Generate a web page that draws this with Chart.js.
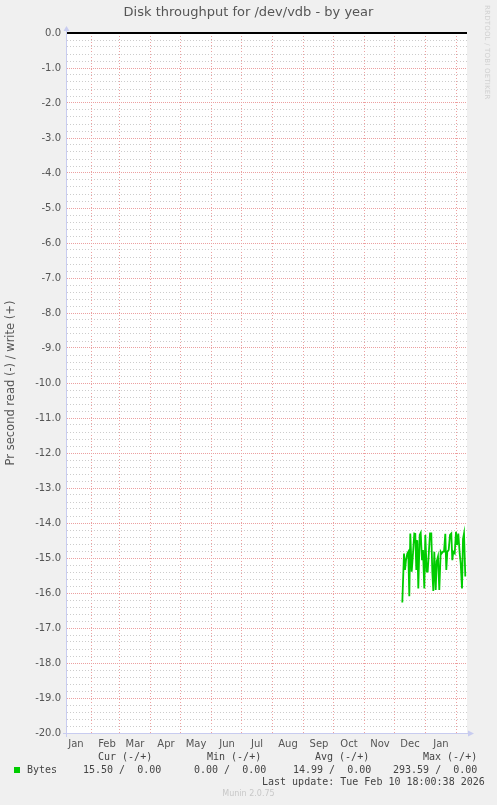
<!DOCTYPE html>
<html>
<head>
<meta charset="utf-8">
<script src="https://cdn.jsdelivr.net/npm/chart.js@4/dist/chart.umd.min.js"></script>
<style>
  html, body { margin:0; padding:0; background:#f0f0f0; width:497px; height:805px; overflow:hidden; }
  #wrap { position:relative; width:497px; height:805px; }
  canvas { position:absolute; left:0; top:0; }
  .t { position:absolute; white-space:pre; font-family:"DejaVu Sans Mono", monospace; font-size:10px; line-height:12px; color:#444; }
  #title { position:absolute; left:0; width:497px; top:4px; text-align:center; font-family:"DejaVu Sans", sans-serif; font-size:13px; color:#555; }
  #rrd { position:absolute; left:483px; top:5px; writing-mode:vertical-rl; font-family:"DejaVu Sans", sans-serif; font-size:7px; color:#d0d0d0; letter-spacing:0.2px; }
  #munin { position:absolute; left:0; width:497px; top:789px; text-align:center; font-family:"DejaVu Sans", sans-serif; font-size:8px; color:#c8c8c8; }
  #sq { position:absolute; left:14px; top:767px; width:6px; height:6px; background:#00cc00; }
</style>
</head>
<body>
<div id="wrap">
<canvas id="c" width="497" height="805"></canvas>
<div id="title">Disk throughput for /dev/vdb - by year</div>
<div id="rrd">RRDTOOL / TOBI OETIKER</div>
<div class="t" style="left:98px;top:751px">Cur (-/+)</div>
<div class="t" style="left:207px;top:751px">Min (-/+)</div>
<div class="t" style="left:315px;top:751px">Avg (-/+)</div>
<div class="t" style="left:423px;top:751px">Max (-/+)</div>
<div id="sq"></div>
<div class="t" style="left:27px;top:764px">Bytes</div>
<div class="t" style="left:83px;top:764px">15.50 /  0.00</div>
<div class="t" style="left:194px;top:764px">0.00 /  0.00</div>
<div class="t" style="left:293px;top:764px">14.99 /  0.00</div>
<div class="t" style="left:393px;top:764px">293.59 /  0.00</div>
<div class="t" style="left:262px;top:776px">Last update: Tue Feb 10 18:00:38 2026</div>
<div id="munin">Munin 2.0.75</div>
</div>
<script>
// ---- data (x in days since 1 Jan 2025) ----
const xMin = 6.7;
const xMax = 406.7;
const monthNames = ['Jan','Feb','Mar','Apr','May','Jun','Jul','Aug','Sep','Oct','Nov','Dec','Jan'];
const monthStartDays = [0,31,59,90,120,151,181,212,243,273,304,334,365,396];
const readDays = [342.0,343.7,344.7,345.7,347.0,348.0,349.0,350.0,351.4,352.7,354.0,355.0,356.0,357.0,358.0,359.4,360.4,361.7,362.7,364.0,365.0,366.4,367.4,368.7,369.7,371.0,372.0,373.0,374.0,375.4,376.4,377.7,379.0,380.4,381.4,382.7,383.7,385.0,386.0,387.0,388.4,389.7,391.0,392.0,393.0,394.4,395.7,396.7,398.0,399.4,400.4,401.7,402.7,403.7,405.0];
const readValues = [-16.27,-14.87,-15.34,-15.06,-14.87,-14.82,-16.09,-14.30,-15.39,-14.87,-14.30,-14.31,-15.34,-14.49,-15.87,-14.34,-14.28,-15.06,-14.77,-15.87,-14.34,-15.39,-15.39,-14.77,-14.30,-14.30,-15.39,-15.94,-14.82,-15.91,-15.10,-14.96,-15.91,-14.82,-14.87,-14.82,-14.82,-14.31,-15.34,-14.82,-14.77,-14.34,-14.30,-15.06,-14.82,-14.87,-14.25,-14.63,-14.30,-14.87,-15.15,-15.87,-14.45,-14.30,-15.53];
const zeroDays = [xMin, xMax];
const zeroValues = [0, 0];
const yMin = -20, yMax = 0, yMinorStep = 0.2, yMajorEvery = 5;

// ---- derived ----
const gridDays = monthStartDays.filter(d => d > xMin && d < xMax);
const labelMap = new Map();
monthNames.forEach((n, i) => labelMap.set(monthStartDays[i] + 15.7, n));
const gridSet = new Set(gridDays);

const MAJOR = '#eca0a0', MINOR = '#cccccc', AXIS = '#c8ccf0';
const isMajorY = (c) => {
  if (!c.tick) return false;
  const k = Math.round(-c.tick.value / yMinorStep);
  return k % yMajorEvery === 0;
};

const bgPlugin = {
  id: 'bg',
  beforeDraw(chart) {
    const {ctx, chartArea: a} = chart;
    ctx.save();
    ctx.fillStyle = '#f0f0f0';
    ctx.fillRect(0, 0, chart.width, chart.height);
    ctx.fillStyle = '#ffffff';
    ctx.fillRect(a.left, a.top, a.right - a.left, a.bottom - a.top);
    ctx.restore();
  },
  afterDraw(chart) {
    const {ctx, chartArea: a} = chart;
    ctx.save();
    ctx.strokeStyle = AXIS; ctx.fillStyle = AXIS; ctx.lineWidth = 1;
    ctx.beginPath();
    ctx.moveTo(a.left - 4, a.bottom + 0.5); ctx.lineTo(a.right + 2, a.bottom + 0.5);
    ctx.moveTo(a.left - 0.5, a.bottom + 4); ctx.lineTo(a.left - 0.5, a.top - 3);
    ctx.stroke();
    ctx.beginPath();
    ctx.moveTo(a.right + 7, a.bottom + 0.5); ctx.lineTo(a.right + 1, a.bottom - 2.5); ctx.lineTo(a.right + 1, a.bottom + 3.5); ctx.closePath();
    ctx.fill();
    ctx.beginPath();
    ctx.moveTo(a.left - 0.5, a.top - 7); ctx.lineTo(a.left - 3.5, a.top - 2); ctx.lineTo(a.left + 2.5, a.top - 2); ctx.closePath();
    ctx.fill();
    ctx.restore();
  }
};

new Chart(document.getElementById('c'), {
  type: 'line',
  data: {
    datasets: [
      {
        label: 'zero',
        data: zeroDays.map((d, i) => ({x: d, y: zeroValues[i]})),
        borderColor: '#000000', borderWidth: 2, pointRadius: 0, clip: false, order: 0
      },
      {
        label: 'Bytes',
        data: readDays.map((d, i) => ({x: d, y: readValues[i]})),
        borderColor: '#00cc00', borderWidth: 1.8, pointRadius: 0, tension: 0, order: 1
      }
    ]
  },
  options: {
    responsive: false,
    devicePixelRatio: 1,
    animation: false,
    layout: { padding: { top: 33, right: 30, left: 0, bottom: 0 } },
    plugins: { legend: { display: false }, tooltip: { enabled: false }, title: { display: false } },
    scales: {
      x: {
        type: 'linear', min: xMin, max: xMax,
        afterBuildTicks(scale) {
          const vals = [...gridDays, ...labelMap.keys()].filter(v => v >= xMin && v <= xMax).sort((a, b) => a - b);
          scale.ticks = vals.map(v => ({value: v}));
        },
        afterFit(scale) { scale.height = 72; },
        grid: {
          drawTicks: false,
          color: (c) => (c.tick && gridSet.has(c.tick.value)) ? MAJOR : 'rgba(0,0,0,0)',
          lineWidth: 1
        },
        border: { display: false, dash: [1, 2] },
        ticks: {
          autoSkip: false, maxRotation: 0, minRotation: 0, padding: 5,
          color: '#555', font: { family: 'DejaVu Sans', size: 10 },
          callback: (v) => labelMap.has(v) ? labelMap.get(v) : ''
        }
      },
      y: {
        type: 'linear', min: yMin, max: yMax,
        afterBuildTicks(scale) {
          const n = Math.round((yMax - yMin) / yMinorStep);
          const t = [];
          for (let k = 0; k <= n; k++) t.push({value: -k / 5});
          scale.ticks = t;
        },
        afterFit(scale) { scale.width = 67; },
        grid: {
          drawTicks: false,
          color: (c) => isMajorY(c) ? MAJOR : MINOR,
          lineWidth: 1
        },
        border: { display: false, dash: (c) => isMajorY(c) ? [1, 1] : [1, 2] },
        ticks: {
          autoSkip: false,
          padding: 6, color: '#555', font: { family: 'DejaVu Sans', size: 10 },
          callback: (v) => {
            const k = Math.round(-v / yMinorStep);
            return (k % yMajorEvery === 0) ? (-k / 5 === 0 ? '0.0' : (-k / 5).toFixed(1)) : '';
          }
        },
        title: {
          display: true, text: 'Pr second read (-) / write (+)',
          color: '#555', font: { family: 'DejaVu Sans', size: 11.5 }, padding: { top: 4, bottom: 4 }
        }
      }
    }
  },
  plugins: [bgPlugin]
});
</script>
</body>
</html>
